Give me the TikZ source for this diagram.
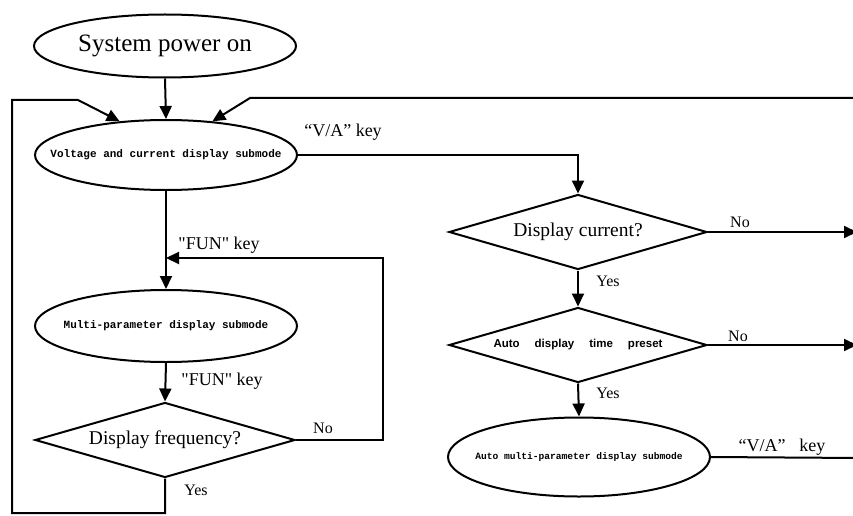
\documentclass[tikz,border=0pt]{standalone}
\usepackage{fontspec}
\setmainfont{Liberation Serif}
\newfontfamily\monob{Liberation Mono}
\newfontfamily\sansb{Liberation Sans}
\usetikzlibrary{shapes.geometric,arrows.meta}

% text that does not widen the shape around it
\newcommand{\tight}[1]{\makebox[0pt][c]{#1}}

\begin{document}
\begin{tikzpicture}[x=1pt,y=-1pt,
  line width=2pt,
  oval/.style={ellipse, draw, line width=2pt, minimum width=262pt, minimum height=70pt, inner sep=0pt},
  choice/.style={diamond, draw, line width=2pt, minimum width=258pt, minimum height=75pt, inner sep=0pt, aspect=3.4},
  arr/.style={-{Triangle[length=13pt,width=12pt]}},
  lbl/.style={font=\fontsize{18}{20}\selectfont, inner sep=0pt},
  small/.style={font=\monob\bfseries\fontsize{11}{12}\selectfont},
  big/.style={font=\fontsize{19.5}{21}\selectfont}]

% page
\fill[white] (0,0) rectangle (853,516);
\useasboundingbox (0,0) rectangle (853,516);

% left column
\node[oval, minimum height=63pt, font=\fontsize{25}{27}\selectfont] (pow) at (165,46) {\tight{System power on}};
\node[oval, small] (volt) at (166,155) {\tight{Voltage and current display submode}};
\node[oval, small, minimum height=72pt] (multi) at (166,326) {\tight{Multi-parameter display submode}};
\node[choice, big, minimum width=260pt] (fq) at (165,440) {\tight{Display frequency?}};

% right column
\node[choice, big] (dc) at (578,232) {\tight{Display current?}};
\node[choice, font=\sansb\bfseries\fontsize{11.5}{13}\selectfont] (dp) at (578,345) {\tight{Auto\hspace{15pt}display\hspace{15pt}time\hspace{15pt}preset}};
\node[oval, font=\monob\bfseries\fontsize{9.6}{11}\selectfont, minimum height=79pt] (am) at (579,457) {\tight{Auto multi-parameter display submode}};

% loop ends and edge points
\coordinate (lb) at (12,513);
\coordinate (lt) at (12,100);
\coordinate (lk) at (78,100);
\coordinate (rt) at (860,98);
\coordinate (rk) at (250,98);
\coordinate (fbr) at (383,258);
\coordinate (e1) at (857,232);
\coordinate (e2) at (857,345);
\coordinate (e3) at (860,458);

% connectors
\draw[arr] (pow.south) -- (volt.north);
\draw[arr] (fq.south) |- (lb) -- (lt) -- (lk) -- (volt.144);
\draw[arr] (rt) -- (rk) -- (volt.36);
\draw[arr] (volt.east) -| (dc.north);
\draw[arr] (volt.south) -- (multi.north);
\draw[arr] (fq.east) -| (fbr) -- (fbr -| multi.north);
\draw[arr] (multi.south) -- (fq.north);
\draw[arr] (dc.east) -- (e1);
\draw[arr] (dc.south) -- (dp.north);
\draw[arr] (dp.east) -- (e2);
\draw[arr] (dp.south) -- (am.north);
\draw (am.east) -- (e3);

% labels
\node[lbl] (lva) at (343,132) {“V/A” key};
\node[lbl] (lfun1) at (219,245) {\textquotedbl FUN\textquotedbl\ key};
\node[lbl] (lfun2) at (222,381) {\textquotedbl FUN\textquotedbl\ key};
\node[lbl, font=\fontsize{16}{18}\selectfont] (lno1) at (323,428) {No};
\node[lbl, font=\fontsize{16}{18}\selectfont] (lyes1) at (196,490) {Yes};
\node[lbl, font=\fontsize{16}{18}\selectfont] (lno2) at (740,222) {No};
\node[lbl, font=\fontsize{16}{18}\selectfont] (lyes2) at (608,281) {Yes};
\node[lbl, font=\fontsize{16}{18}\selectfont] (lno3) at (738,336) {No};
\node[lbl, font=\fontsize{16}{18}\selectfont] (lyes3) at (608,393) {Yes};
\node[lbl] (lva2) at (782,447) {“V/A”\hspace{14pt}key};
\end{tikzpicture}
\end{document}
